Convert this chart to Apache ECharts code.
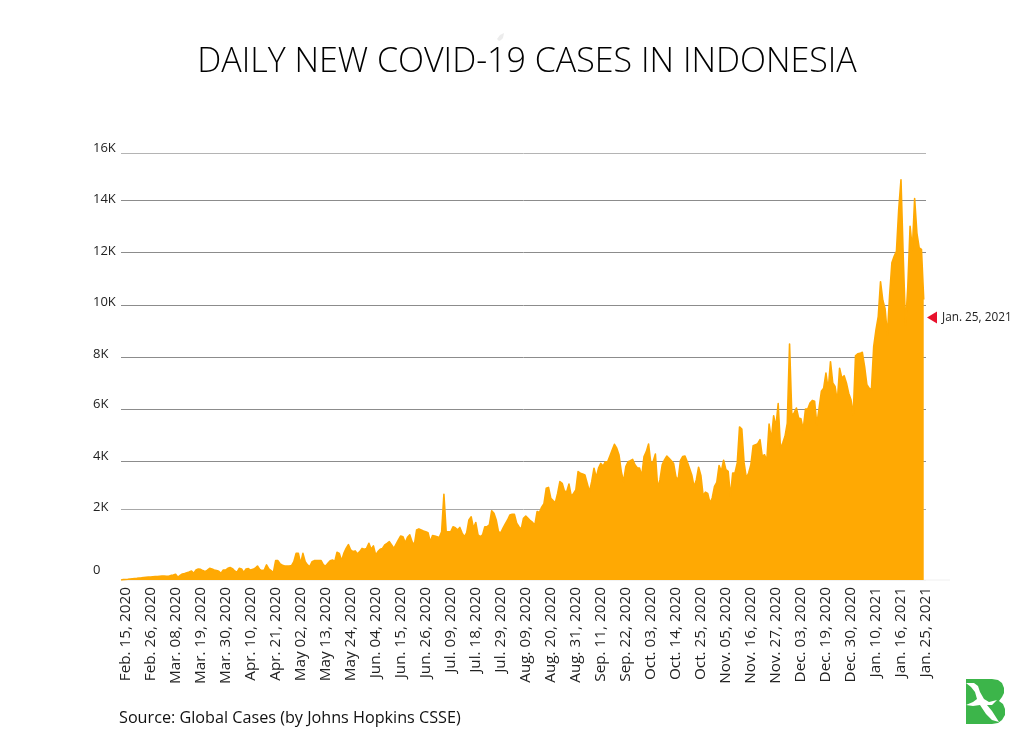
<!DOCTYPE html>
<html>
<head>
<meta charset="utf-8">
<title>Daily new COVID-19 cases in Indonesia</title>
<script src="https://cdn.jsdelivr.net/npm/echarts@6/dist/echarts.min.js"></script>
<style>
  html, body { margin: 0; padding: 0; background: #fff; }
  #chart { width: 1024px; height: 745px; }
</style>
</head>
<body>
<div id="chart"></div>
<script>
// tick labels every 11 days, as printed in the source (odd ones included)
const dateLabels = [
  'Feb. 15, 2020', 'Feb. 26, 2020', 'Mar. 08, 2020', 'Mar. 19, 2020', 'Mar. 30, 2020',
  'Apr. 10, 2020', 'Apr. 21, 2020', 'May 02, 2020', 'May 13, 2020', 'May 24, 2020',
  'Jun. 04, 2020', 'Jun. 15, 2020', 'Jun. 26, 2020', 'Jul. 09, 2020', 'Jul. 18, 2020',
  'Jul. 29, 2020', 'Aug. 09, 2020', 'Aug. 20, 2020', 'Aug. 31, 2020', 'Sep. 11, 2020',
  'Sep. 22, 2020', 'Oct. 03, 2020', 'Oct. 14, 2020', 'Oct. 25, 2020', 'Nov. 05, 2020',
  'Nov. 16, 2020', 'Nov. 27, 2020', 'Dec. 03, 2020', 'Dec. 19, 2020', 'Dec. 30, 2020',
  'Jan. 10, 2021', 'Jan. 16, 2021', 'Jan. 25, 2021'
];
const yLabels = ['0', '2K', '4K', '6K', '8K', '10K', '12K', '14K', '16K'];
const yTickValues = [0, 2000, 4000, 6000, 8000, 10000, 12000, 14000, 16000];

// daily new cases, 11 days a row
const dailyCases = [
  0, 10, 15, 20, 30, 35, 40, 45, 55, 60, 70,
  75, 80, 85, 90, 95, 100, 105, 110, 110, 105, 105,
  130, 140, 160, 75, 130, 170, 180, 205, 225, 255, 190,
  280, 310, 300, 265, 235, 280, 330, 310, 280, 265, 245,
  190, 280, 280, 330, 350, 320, 255, 215, 330, 310, 215,
  310, 320, 280, 300, 330, 395, 300, 265, 280, 425, 310,
  265, 205, 545, 545, 450, 415, 395, 395, 395, 405, 515,
  750, 750, 470, 750, 515, 425, 375, 515, 545, 545, 545,
  545, 425, 395, 470, 545, 565, 515, 780, 750, 545, 750,
  890, 995, 845, 800, 820, 735, 800, 890, 865, 890, 1035,
  865, 960, 705, 800, 865, 890, 990, 1030, 1080, 990, 890,
  1010, 1130, 1240, 1220, 1050, 1200, 1270, 1080, 990, 1410, 1440,
  1410, 1380, 1360, 1330, 1080, 1250, 1240, 1220, 1200, 1360, 2610,
  1360, 1360, 1360, 1500, 1470, 1410, 1480, 1320, 1220, 1330, 1690,
  1780, 1460, 1620, 1270, 1220, 1270, 1500, 1500, 1550, 1950, 1880,
  1690, 1360, 1330, 1460, 1580, 1690, 1830, 1850, 1850, 1600, 1500,
  1430, 1740, 1800, 1740, 1670, 1620, 1550, 1930, 1900, 2080, 2220,
  2860, 2900, 2450, 2350, 2260, 2650, 3140, 3070, 2750, 2720, 3040,
  2540, 2650, 2790, 3560, 3490, 3460, 3420, 3070, 2720, 3140, 3700,
  3320, 3700, 3900, 3790, 3970, 3970, 4190, 4420, 4640, 4490, 4230,
  3560, 3140, 3770, 3970, 4010, 4060, 3840, 3720, 3710, 3380, 4170,
  4360, 4650, 3900, 3970, 4270, 2900, 3210, 3840, 4040, 4190, 4100,
  4010, 3900, 3350, 3210, 4010, 4170, 4190, 3970, 3700, 3420, 2930,
  3210, 3740, 3400, 2550, 2700, 2650, 2250, 2460, 2940, 3110, 3810,
  3570, 4030, 3640, 3570, 2530, 3500, 3500, 3920, 5310, 5230, 3920,
  3290, 3500, 3850, 4590, 4620, 4670, 4820, 4180, 4240, 4030, 5420,
  4820, 5740, 5310, 6210, 4490, 4690, 4950, 5460, 8500, 5740, 5850,
  6040, 5650, 5620, 5210, 6000, 6000, 6230, 6330, 6300, 5400, 6040,
  6680, 6800, 7380, 6740, 7820, 7000, 6870, 6290, 7570, 7190, 7280,
  7000, 6610, 6360, 5780, 8040, 8120, 8140, 8180, 7630, 6930, 6800,
  6740, 8400, 9040, 9550, 10880, 10180, 9860, 8840, 10370, 11590, 11840,
  12030, 13630, 14860, 11780, 9230, 10690, 12990, 12100, 14060, 12730, 12160,
  12100, 10210
];

// the source's value axis is not evenly spaced: height of each gridline above the baseline
const gridHeights = [0, 71, 119, 171, 223, 275, 328, 380, 427];
const labelHeights = [10, 73, 124, 176, 226, 278, 329, 381, 432];
const gridColors = ['#f2f2f2', '#a8a8a8', '#8c8c8c', '#8c8c8c', '#8c8c8c', '#8c8c8c', '#8c8c8c', '#8c8c8c', '#b4b4b4'];

function toAxis(v) {
  let k = 0;
  while (k < yTickValues.length - 2 && v > yTickValues[k + 1]) k++;
  const t = (v - yTickValues[k]) / (yTickValues[k + 1] - yTickValues[k]);
  return gridHeights[k] + t * (gridHeights[k + 1] - gridHeights[k]);
}

const textFont = '"Open Sans", sans-serif';

// one slot per day, labelled from the third slot on, one label left past the last day
const labelOffset = 2;
const categories = [];
for (let i = 0; i < labelOffset + (dateLabels.length - 1) * 11 + 1; i++) {
  const k = (i - labelOffset) / 11;
  categories.push(Number.isInteger(k) && k >= 0 ? dateLabels[k] : '');
}

const chart = echarts.init(document.getElementById('chart'));
chart.setOption({
  animation: false,
  backgroundColor: '#fff',
  title: {
    text: 'DAILY NEW COVID-19 CASES IN INDONESIA',
    left: 522,
    top: 40,
    textAlign: 'center',
    textStyle: { fontFamily: textFont, fontSize: 34, fontWeight: 300, color: '#000' }
  },
  grid: { left: 121, right: 98, top: 140, bottom: 165 },
  xAxis: {
    type: 'category',
    boundaryGap: false,
    data: categories,
    axisLine: { show: false },
    axisTick: { show: false },
    splitLine: { show: false },
    axisLabel: {
      interval: 0,
      rotate: 90,
      margin: 7,
      fontFamily: textFont,
      fontSize: 15.3,
      color: '#222'
    }
  },
  yAxis: {
    type: 'value',
    min: 0,
    max: 440,
    axisLine: { show: false },
    axisTick: { show: false, customValues: gridHeights },
    splitLine: { show: true, lineStyle: { color: gridColors, width: 1 } },
    axisLabel: {
      customValues: labelHeights,
      align: 'left',
      margin: 28,
      fontFamily: textFont,
      fontSize: 13,
      color: '#222',
      formatter: function (v) { return yLabels[labelHeights.indexOf(v)]; }
    }
  },
  series: [{
    type: 'line',
    data: dailyCases.map(toAxis),
    symbol: 'none',
    lineStyle: { color: '#ffa903', width: 1.6, join: 'round' },
    itemStyle: { color: '#ffa903' },
    areaStyle: { color: '#ffa903', opacity: 1 }
  }],
  graphic: [
    { type: 'line', z: 1, shape: { x1: 924, y1: 580, x2: 950, y2: 580 }, style: { stroke: '#f0f0f0', lineWidth: 1 } },
    // last-day callout
    { type: 'polygon', shape: { points: [[927, 317.5], [937, 311.5], [937, 323.5]] }, style: { fill: '#e8112d' } },
    { type: 'text', x: 942, y: 317.5, style: { text: 'Jan. 25, 2021', font: '11.8px ' + textFont, fill: '#222', verticalAlign: 'middle' } },
    // source line
    { type: 'text', x: 119, y: 718, style: { text: 'Source: Global Cases (by Johns Hopkins CSSE)', font: '16.2px ' + textFont, fill: '#111', verticalAlign: 'middle' } },
    // logo
    { type: 'polygon', z: 5, shape: { points: [[966, 679], [992, 679], [998, 680], [1002, 683], [1004, 688], [1004, 693], [1002, 697], [999, 701], [1003, 704], [1005, 709], [1005, 715], [1002, 720], [998, 723], [992, 724], [966, 724]] }, style: { fill: '#3cb54a' } },
    { type: 'polygon', z: 6, shape: { points: [[966, 683], [974, 683], [978, 686], [980, 692], [984, 699], [989, 702], [997, 700], [992, 705], [987, 705], [992, 711], [999, 722], [992, 720], [986, 714], [980, 705], [973, 706], [966, 705], [973, 702], [977, 699], [975, 692], [971, 687]] }, style: { fill: '#fff' } },
    // faint mark above the title
    { type: 'polygon', shape: { points: [[497, 39], [500, 35], [504, 33], [503, 38], [501, 40], [499, 41]] }, style: { fill: '#ececec' } }
  ]
});
</script>
</body>
</html>
